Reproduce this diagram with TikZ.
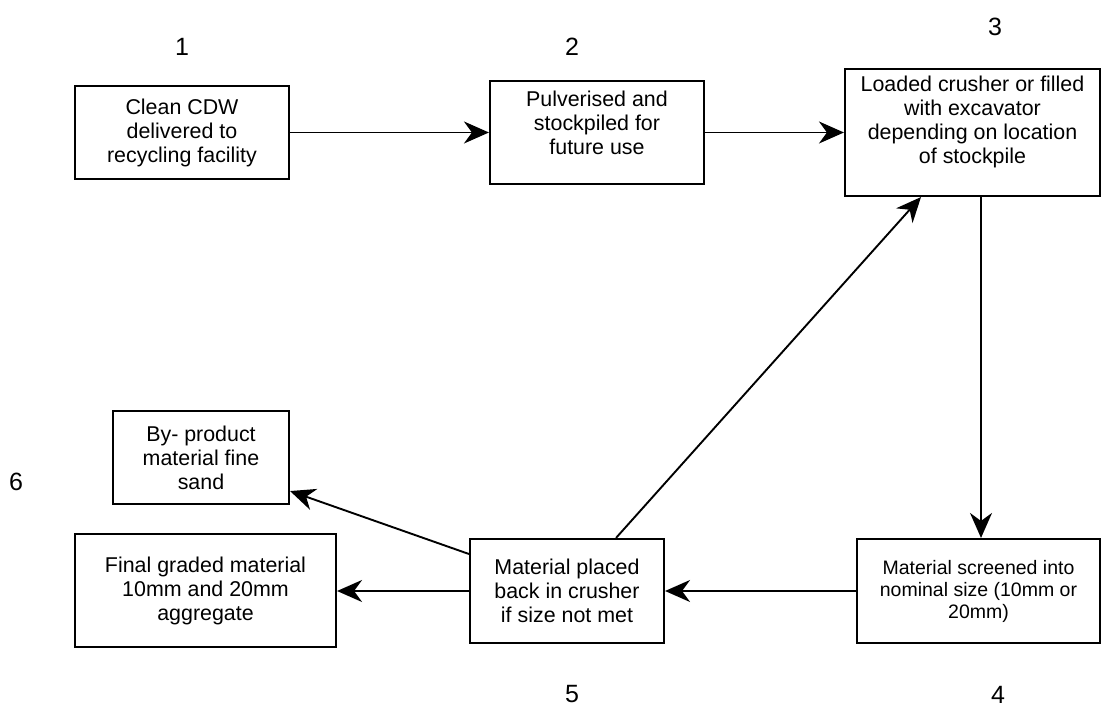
\documentclass[tikz,border=0pt]{standalone}
\usepackage{fontspec}
\setmainfont{Liberation Sans}
\usetikzlibrary{arrows.meta}
\begin{document}
\begin{tikzpicture}[x=1pt,y=-1pt,
  box/.style={draw, line width=2.1pt, inner sep=0pt, align=center,
              font=\fontsize{21.4}{24}\selectfont},
  txt/.style={align=center, inner sep=0pt, font=\fontsize{21.4}{24}\selectfont},
  num/.style={inner sep=0pt, font=\fontsize{25}{30}\selectfont},
  arr/.style={line width=1.9pt, -{Stealth[length=25pt,width=22pt,inset=8pt]}}]
\useasboundingbox (0,0) rectangle (1103,708);

% boxes
\node[box, minimum width=214pt, minimum height=93pt] (b1) at (182,132.5)
  {Clean CDW\\delivered to\\recycling facility};
\node[box, minimum width=214pt, minimum height=103pt] (b2) at (597,132.5) {};
\node[txt] (t2) at (597,123) {Pulverised and\\stockpiled for\\future use};
\node[box, minimum width=255pt, minimum height=127pt] (b3) at (972.5,132.5) {};
\node[txt] (t3) at (972.5,122) {Loaded crusher or filled\\with excavator\\depending on location\\of stockpile};
\node[box, minimum width=243pt, minimum height=104pt,
      font=\fontsize{19.5}{22}\selectfont] (b4) at (978.5,591)
  {Material screened into\\nominal size (10mm or\\20mm)};
\node[box, minimum width=194pt, minimum height=104pt] (b5) at (567,591)
  {Material placed\\back in crusher\\if size not met};
\node[box, minimum width=176pt, minimum height=93pt] (b6a) at (201,457.5)
  {By- product\\material fine\\sand};
\node[box, minimum width=261pt, minimum height=113pt] (b6b) at (205.5,590.5)
  {Final graded material\\10mm and 20mm\\aggregate};

% numbers
\node[num] (n1) at (182,47) {1};
\node[num] (n2) at (572,47) {2};
\node[num] (n3) at (995,27) {3};
\node[num] (n4) at (998,695) {4};
\node[num] (n5) at (572,694) {5};
\node[num] (n6) at (16,482) {6};

% connectors
\draw[arr] (b1.east) -- (b2.west);
\draw[arr] (b2.east) -- (b3.west);
\draw[arr] ([xshift=8.5pt]b3.south) -- ([xshift=8.5pt]b3.south |- b4.north);
\draw[arr] (b4.west) -- (b5.east);
\draw[arr] (b5.west) -- (b5.west -| b6b.east);
\draw[arr] ([yshift=37pt]b5.west) -- ([yshift=14pt]b6a.south east);
\draw[arr] ([xshift=49pt]b5.north) -- ([xshift=-51.5pt]b3.south);
\end{tikzpicture}
\end{document}
